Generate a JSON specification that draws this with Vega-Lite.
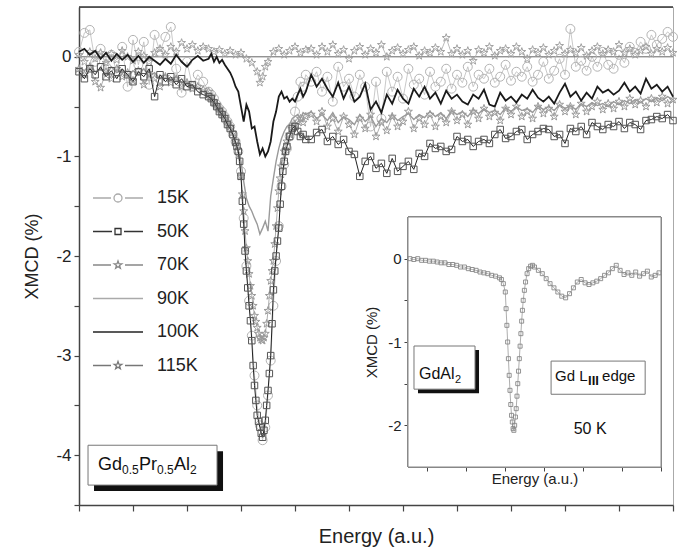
{
"$schema":"https://vega.github.io/schema/vega-lite/v6.json",
"autosize":{"type":"none"},
"padding":{"left":79,"top":7,"right":8,"bottom":50},
"width":594,"height":498,
"background":"white",
"config":{"font":"Liberation Sans","view":{"stroke":"#aaaaaa"},"axis":{"grid":false,"domainColor":"#444444","domainWidth":1.5,"tickColor":"#444444","tickWidth":1.2,"labelColor":"#222222","titleColor":"#222222","titleFontWeight":"normal","labelFont":"Liberation Sans","titleFont":"Liberation Sans"}},
"datasets":{
"main":[
{"s":"15K","x":0.0,"y":0.05},{"s":"15K","x":0.1,"y":0.24},{"s":"15K","x":0.2,"y":0.27},{"s":"15K","x":0.3,"y":-0.05},{"s":"15K","x":0.4,"y":0.08},{"s":"15K","x":0.5,"y":-0.10},{"s":"15K","x":0.6,"y":0.02},{"s":"15K","x":0.7,"y":-0.15},{"s":"15K","x":0.8,"y":0.10},{"s":"15K","x":0.9,"y":-0.30},{"s":"15K","x":1.0,"y":0.17},{"s":"15K","x":1.1,"y":-0.08},{"s":"15K","x":1.2,"y":0.15},{"s":"15K","x":1.3,"y":-0.28},{"s":"15K","x":1.4,"y":0.22},{"s":"15K","x":1.5,"y":0.05},{"s":"15K","x":1.6,"y":0.20},{"s":"15K","x":1.7,"y":0.30},{"s":"15K","x":1.8,"y":-0.12},{"s":"15K","x":1.9,"y":-0.36},{"s":"15K","x":2.0,"y":-0.05},{"s":"15K","x":2.1,"y":-0.30},{"s":"15K","x":2.2,"y":-0.18},{"s":"15K","x":2.3,"y":-0.25},
{"s":"15K","x":2.40,"y":-0.35},{"s":"15K","x":2.45,"y":-0.38},{"s":"15K","x":2.50,"y":-0.42},{"s":"15K","x":2.55,"y":-0.48},{"s":"15K","x":2.60,"y":-0.52},{"s":"15K","x":2.65,"y":-0.55},{"s":"15K","x":2.70,"y":-0.60},{"s":"15K","x":2.75,"y":-0.65},{"s":"15K","x":2.80,"y":-0.70},{"s":"15K","x":2.85,"y":-0.78},{"s":"15K","x":2.90,"y":-0.85},{"s":"15K","x":2.95,"y":-0.95},{"s":"15K","x":3.00,"y":-1.15},{"s":"15K","x":3.05,"y":-1.62},{"s":"15K","x":3.10,"y":-2.10},{"s":"15K","x":3.15,"y":-2.45},{"s":"15K","x":3.20,"y":-2.80},{"s":"15K","x":3.25,"y":-3.20},{"s":"15K","x":3.30,"y":-3.50},{"s":"15K","x":3.35,"y":-3.70},{"s":"15K","x":3.40,"y":-3.85},{"s":"15K","x":3.45,"y":-3.72},{"s":"15K","x":3.50,"y":-3.40},{"s":"15K","x":3.55,"y":-3.05},{"s":"15K","x":3.60,"y":-2.50},{"s":"15K","x":3.65,"y":-2.05},{"s":"15K","x":3.70,"y":-1.70},{"s":"15K","x":3.75,"y":-1.30},{"s":"15K","x":3.80,"y":-1.08},{"s":"15K","x":3.85,"y":-0.92},{"s":"15K","x":3.90,"y":-0.80},{"s":"15K","x":3.95,"y":-0.70},{"s":"15K","x":4.00,"y":-0.55},{"s":"15K","x":4.05,"y":-0.40},{"s":"15K","x":4.10,"y":-0.25},{"s":"15K","x":4.15,"y":-0.30},{"s":"15K","x":4.20,"y":-0.18},
{"s":"15K","x":4.3,"y":-0.25},{"s":"15K","x":4.4,"y":-0.15},{"s":"15K","x":4.5,"y":-0.35},{"s":"15K","x":4.6,"y":-0.20},{"s":"15K","x":4.7,"y":-0.45},{"s":"15K","x":4.8,"y":-0.10},{"s":"15K","x":4.9,"y":-0.30},{"s":"15K","x":5.0,"y":-0.22},{"s":"15K","x":5.1,"y":-0.40},{"s":"15K","x":5.2,"y":-0.18},
{"s":"15K","x":5.3,"y":-0.30},{"s":"15K","x":5.4,"y":-0.70},{"s":"15K","x":5.5,"y":-0.25},{"s":"15K","x":5.6,"y":-0.62},{"s":"15K","x":5.7,"y":-0.15},{"s":"15K","x":5.8,"y":-0.35},{"s":"15K","x":5.9,"y":-0.20},{"s":"15K","x":6.0,"y":-0.42},{"s":"15K","x":6.1,"y":-0.12},{"s":"15K","x":6.2,"y":-0.28},
{"s":"15K","x":6.3,"y":-0.22},{"s":"15K","x":6.4,"y":-0.38},{"s":"15K","x":6.5,"y":-0.15},{"s":"15K","x":6.6,"y":-0.30},{"s":"15K","x":6.7,"y":-0.25},{"s":"15K","x":6.8,"y":-0.12},{"s":"15K","x":6.9,"y":-0.32},{"s":"15K","x":7.0,"y":-0.18},{"s":"15K","x":7.1,"y":-0.26},{"s":"15K","x":7.2,"y":-0.10},
{"s":"15K","x":7.3,"y":-0.30},{"s":"15K","x":7.4,"y":-0.18},{"s":"15K","x":7.5,"y":-0.22},{"s":"15K","x":7.6,"y":-0.12},{"s":"15K","x":7.7,"y":-0.26},{"s":"15K","x":7.8,"y":-0.20},{"s":"15K","x":7.9,"y":-0.08},{"s":"15K","x":8.0,"y":-0.24},{"s":"15K","x":8.1,"y":-0.15},{"s":"15K","x":8.2,"y":-0.20},
{"s":"15K","x":8.3,"y":-0.10},{"s":"15K","x":8.4,"y":-0.25},{"s":"15K","x":8.5,"y":-0.18},{"s":"15K","x":8.6,"y":-0.05},{"s":"15K","x":8.7,"y":-0.22},{"s":"15K","x":8.8,"y":-0.14},{"s":"15K","x":8.9,"y":-0.02},{"s":"15K","x":9.0,"y":-0.18},{"s":"15K","x":9.1,"y":0.28},{"s":"15K","x":9.2,"y":-0.10},
{"s":"15K","x":9.3,"y":-0.04},{"s":"15K","x":9.4,"y":-0.14},{"s":"15K","x":9.5,"y":0.00},{"s":"15K","x":9.6,"y":-0.10},{"s":"15K","x":9.7,"y":0.05},{"s":"15K","x":9.8,"y":-0.08},{"s":"15K","x":9.9,"y":-0.12},{"s":"15K","x":10.0,"y":0.02},{"s":"15K","x":10.1,"y":-0.06},{"s":"15K","x":10.2,"y":0.10},
{"s":"15K","x":10.3,"y":0.04},{"s":"15K","x":10.4,"y":0.15},{"s":"15K","x":10.5,"y":0.08},{"s":"15K","x":10.6,"y":0.22},{"s":"15K","x":10.7,"y":0.12},{"s":"15K","x":10.8,"y":0.18},{"s":"15K","x":10.9,"y":0.25},{"s":"15K","x":11.0,"y":0.20},

{"s":"50K","x":0.0,"y":-0.15},{"s":"50K","x":0.1,"y":-0.22},{"s":"50K","x":0.2,"y":-0.12},{"s":"50K","x":0.3,"y":-0.18},{"s":"50K","x":0.4,"y":-0.10},{"s":"50K","x":0.5,"y":-0.20},{"s":"50K","x":0.6,"y":-0.14},{"s":"50K","x":0.7,"y":-0.22},{"s":"50K","x":0.8,"y":-0.12},{"s":"50K","x":0.9,"y":-0.18},{"s":"50K","x":1.0,"y":-0.25},{"s":"50K","x":1.1,"y":-0.15},{"s":"50K","x":1.2,"y":-0.20},{"s":"50K","x":1.3,"y":-0.12},{"s":"50K","x":1.4,"y":-0.40},{"s":"50K","x":1.5,"y":-0.18},{"s":"50K","x":1.6,"y":-0.25},{"s":"50K","x":1.7,"y":-0.20},{"s":"50K","x":1.8,"y":-0.28},{"s":"50K","x":1.9,"y":-0.22},{"s":"50K","x":2.0,"y":-0.30},{"s":"50K","x":2.1,"y":-0.28},{"s":"50K","x":2.2,"y":-0.35},{"s":"50K","x":2.3,"y":-0.38},
{"s":"50K","x":2.40,"y":-0.40},{"s":"50K","x":2.45,"y":-0.42},{"s":"50K","x":2.50,"y":-0.46},{"s":"50K","x":2.55,"y":-0.50},{"s":"50K","x":2.60,"y":-0.55},{"s":"50K","x":2.65,"y":-0.58},{"s":"50K","x":2.70,"y":-0.62},{"s":"50K","x":2.75,"y":-0.68},{"s":"50K","x":2.80,"y":-0.72},{"s":"50K","x":2.85,"y":-0.78},{"s":"50K","x":2.90,"y":-0.86},{"s":"50K","x":2.925,"y":-0.90},{"s":"50K","x":2.95,"y":-0.95},{"s":"50K","x":2.975,"y":-1.05},{"s":"50K","x":3.0,"y":-1.20},{"s":"50K","x":3.025,"y":-1.45},{"s":"50K","x":3.05,"y":-1.68},{"s":"50K","x":3.075,"y":-1.95},{"s":"50K","x":3.1,"y":-2.15},{"s":"50K","x":3.125,"y":-2.32},{"s":"50K","x":3.15,"y":-2.50},{"s":"50K","x":3.175,"y":-2.65},{"s":"50K","x":3.2,"y":-2.85},{"s":"50K","x":3.225,"y":-3.10},{"s":"50K","x":3.25,"y":-3.30},{"s":"50K","x":3.275,"y":-3.45},{"s":"50K","x":3.3,"y":-3.60},{"s":"50K","x":3.325,"y":-3.66},{"s":"50K","x":3.35,"y":-3.72},{"s":"50K","x":3.375,"y":-3.78},{"s":"50K","x":3.4,"y":-3.82},{"s":"50K","x":3.425,"y":-3.75},{"s":"50K","x":3.45,"y":-3.65},{"s":"50K","x":3.475,"y":-3.50},{"s":"50K","x":3.5,"y":-3.35},{"s":"50K","x":3.525,"y":-3.18},{"s":"50K","x":3.55,"y":-3.00},{"s":"50K","x":3.575,"y":-2.68},{"s":"50K","x":3.6,"y":-2.34},{"s":"50K","x":3.625,"y":-2.15},{"s":"50K","x":3.65,"y":-2.00},{"s":"50K","x":3.675,"y":-1.85},{"s":"50K","x":3.7,"y":-1.72},{"s":"50K","x":3.725,"y":-1.48},{"s":"50K","x":3.75,"y":-1.30},{"s":"50K","x":3.775,"y":-1.15},{"s":"50K","x":3.8,"y":-1.05},{"s":"50K","x":3.825,"y":-0.95},{"s":"50K","x":3.85,"y":-0.90},{"s":"50K","x":3.9,"y":-0.80},{"s":"50K","x":3.95,"y":-0.72},{"s":"50K","x":4.0,"y":-0.70},{"s":"50K","x":4.05,"y":-0.75},{"s":"50K","x":4.1,"y":-0.80},{"s":"50K","x":4.15,"y":-0.78},{"s":"50K","x":4.2,"y":-0.83},
{"s":"50K","x":4.3,"y":-0.83},{"s":"50K","x":4.4,"y":-0.76},{"s":"50K","x":4.5,"y":-0.73},{"s":"50K","x":4.6,"y":-0.85},{"s":"50K","x":4.7,"y":-0.80},{"s":"50K","x":4.8,"y":-0.88},{"s":"50K","x":4.9,"y":-0.83},{"s":"50K","x":5.0,"y":-0.95},{"s":"50K","x":5.1,"y":-0.98},{"s":"50K","x":5.2,"y":-1.20},
{"s":"50K","x":5.3,"y":-1.05},{"s":"50K","x":5.4,"y":-1.00},{"s":"50K","x":5.5,"y":-1.12},{"s":"50K","x":5.6,"y":-1.07},{"s":"50K","x":5.7,"y":-1.17},{"s":"50K","x":5.8,"y":-1.02},{"s":"50K","x":5.9,"y":-1.15},{"s":"50K","x":6.0,"y":-1.10},{"s":"50K","x":6.1,"y":-1.05},{"s":"50K","x":6.2,"y":-1.13},
{"s":"50K","x":6.3,"y":-0.97},{"s":"50K","x":6.4,"y":-1.00},{"s":"50K","x":6.5,"y":-0.87},{"s":"50K","x":6.6,"y":-0.92},{"s":"50K","x":6.7,"y":-0.90},{"s":"50K","x":6.8,"y":-0.95},{"s":"50K","x":6.9,"y":-0.93},{"s":"50K","x":7.0,"y":-0.80},{"s":"50K","x":7.1,"y":-0.85},{"s":"50K","x":7.2,"y":-0.83},
{"s":"50K","x":7.3,"y":-0.90},{"s":"50K","x":7.4,"y":-0.85},{"s":"50K","x":7.5,"y":-0.83},{"s":"50K","x":7.6,"y":-0.87},{"s":"50K","x":7.7,"y":-0.78},{"s":"50K","x":7.8,"y":-0.73},{"s":"50K","x":7.9,"y":-0.82},{"s":"50K","x":8.0,"y":-0.80},{"s":"50K","x":8.1,"y":-0.75},{"s":"50K","x":8.2,"y":-0.73},
{"s":"50K","x":8.3,"y":-0.83},{"s":"50K","x":8.4,"y":-0.78},{"s":"50K","x":8.5,"y":-0.75},{"s":"50K","x":8.6,"y":-0.72},{"s":"50K","x":8.7,"y":-0.73},{"s":"50K","x":8.8,"y":-0.80},{"s":"50K","x":8.9,"y":-0.78},{"s":"50K","x":9.0,"y":-0.87},{"s":"50K","x":9.1,"y":-0.72},{"s":"50K","x":9.2,"y":-0.75},
{"s":"50K","x":9.3,"y":-0.70},{"s":"50K","x":9.4,"y":-0.78},{"s":"50K","x":9.5,"y":-0.66},{"s":"50K","x":9.6,"y":-0.70},{"s":"50K","x":9.7,"y":-0.73},{"s":"50K","x":9.8,"y":-0.68},{"s":"50K","x":9.9,"y":-0.70},{"s":"50K","x":10.0,"y":-0.65},{"s":"50K","x":10.1,"y":-0.72},{"s":"50K","x":10.2,"y":-0.66},
{"s":"50K","x":10.3,"y":-0.68},{"s":"50K","x":10.4,"y":-0.73},{"s":"50K","x":10.5,"y":-0.64},{"s":"50K","x":10.6,"y":-0.63},{"s":"50K","x":10.7,"y":-0.60},{"s":"50K","x":10.8,"y":-0.62},{"s":"50K","x":10.9,"y":-0.58},{"s":"50K","x":11.0,"y":-0.64},

{"s":"70K","x":0.0,"y":-0.12},{"s":"70K","x":0.1,"y":-0.18},{"s":"70K","x":0.2,"y":-0.10},{"s":"70K","x":0.3,"y":-0.25},{"s":"70K","x":0.4,"y":-0.31},{"s":"70K","x":0.5,"y":-0.15},{"s":"70K","x":0.6,"y":-0.22},{"s":"70K","x":0.7,"y":-0.12},{"s":"70K","x":0.8,"y":-0.20},{"s":"70K","x":0.9,"y":-0.16},{"s":"70K","x":1.0,"y":-0.24},{"s":"70K","x":1.1,"y":-0.14},{"s":"70K","x":1.2,"y":-0.28},{"s":"70K","x":1.3,"y":-0.18},{"s":"70K","x":1.4,"y":-0.22},{"s":"70K","x":1.5,"y":-0.30},{"s":"70K","x":1.6,"y":-0.20},{"s":"70K","x":1.7,"y":-0.26},{"s":"70K","x":1.8,"y":-0.22},{"s":"70K","x":1.9,"y":-0.30},{"s":"70K","x":2.0,"y":-0.26},{"s":"70K","x":2.1,"y":-0.32},{"s":"70K","x":2.2,"y":-0.30},{"s":"70K","x":2.3,"y":-0.33},
{"s":"70K","x":2.40,"y":-0.35},{"s":"70K","x":2.45,"y":-0.40},{"s":"70K","x":2.50,"y":-0.45},{"s":"70K","x":2.55,"y":-0.48},{"s":"70K","x":2.60,"y":-0.52},{"s":"70K","x":2.65,"y":-0.56},{"s":"70K","x":2.70,"y":-0.60},{"s":"70K","x":2.75,"y":-0.65},{"s":"70K","x":2.80,"y":-0.70},{"s":"70K","x":2.85,"y":-0.76},{"s":"70K","x":2.90,"y":-0.85},{"s":"70K","x":2.95,"y":-0.98},{"s":"70K","x":3.0,"y":-1.20},{"s":"70K","x":3.025,"y":-1.38},{"s":"70K","x":3.05,"y":-1.55},{"s":"70K","x":3.075,"y":-1.75},{"s":"70K","x":3.1,"y":-1.92},{"s":"70K","x":3.125,"y":-2.05},{"s":"70K","x":3.15,"y":-2.18},{"s":"70K","x":3.175,"y":-2.30},{"s":"70K","x":3.2,"y":-2.40},{"s":"70K","x":3.225,"y":-2.50},{"s":"70K","x":3.25,"y":-2.60},{"s":"70K","x":3.275,"y":-2.66},{"s":"70K","x":3.3,"y":-2.72},{"s":"70K","x":3.325,"y":-2.78},{"s":"70K","x":3.35,"y":-2.82},{"s":"70K","x":3.375,"y":-2.84},{"s":"70K","x":3.4,"y":-2.85},{"s":"70K","x":3.425,"y":-2.82},{"s":"70K","x":3.45,"y":-2.78},{"s":"70K","x":3.475,"y":-2.68},{"s":"70K","x":3.5,"y":-2.55},{"s":"70K","x":3.525,"y":-2.40},{"s":"70K","x":3.55,"y":-2.25},{"s":"70K","x":3.575,"y":-2.15},{"s":"70K","x":3.6,"y":-2.05},{"s":"70K","x":3.625,"y":-1.88},{"s":"70K","x":3.65,"y":-1.70},{"s":"70K","x":3.675,"y":-1.52},{"s":"70K","x":3.7,"y":-1.35},{"s":"70K","x":3.725,"y":-1.22},{"s":"70K","x":3.75,"y":-1.10},{"s":"70K","x":3.8,"y":-0.95},{"s":"70K","x":3.85,"y":-0.85},{"s":"70K","x":3.9,"y":-0.78},{"s":"70K","x":3.95,"y":-0.72},{"s":"70K","x":4.0,"y":-0.68},{"s":"70K","x":4.05,"y":-0.65},{"s":"70K","x":4.1,"y":-0.62},{"s":"70K","x":4.15,"y":-0.66},{"s":"70K","x":4.2,"y":-0.60},
{"s":"70K","x":4.3,"y":-0.58},{"s":"70K","x":4.4,"y":-0.65},{"s":"70K","x":4.5,"y":-0.55},{"s":"70K","x":4.6,"y":-0.70},{"s":"70K","x":4.7,"y":-0.62},{"s":"70K","x":4.8,"y":-0.75},{"s":"70K","x":4.9,"y":-0.60},{"s":"70K","x":5.0,"y":-0.68},{"s":"70K","x":5.1,"y":-0.78},{"s":"70K","x":5.2,"y":-0.62},
{"s":"70K","x":5.3,"y":-0.72},{"s":"70K","x":5.4,"y":-0.58},{"s":"70K","x":5.5,"y":-0.80},{"s":"70K","x":5.6,"y":-0.66},{"s":"70K","x":5.7,"y":-0.74},{"s":"70K","x":5.8,"y":-0.60},{"s":"70K","x":5.9,"y":-0.70},{"s":"70K","x":6.0,"y":-0.65},{"s":"70K","x":6.1,"y":-0.55},{"s":"70K","x":6.2,"y":-0.72},
{"s":"70K","x":6.3,"y":-0.62},{"s":"70K","x":6.4,"y":-0.68},{"s":"70K","x":6.5,"y":-0.58},{"s":"70K","x":6.6,"y":-0.70},{"s":"70K","x":6.7,"y":-0.60},{"s":"70K","x":6.8,"y":-0.66},{"s":"70K","x":6.9,"y":-0.55},{"s":"70K","x":7.0,"y":-0.64},{"s":"70K","x":7.1,"y":-0.58},{"s":"70K","x":7.2,"y":-0.68},
{"s":"70K","x":7.3,"y":-0.55},{"s":"70K","x":7.4,"y":-0.62},{"s":"70K","x":7.5,"y":-0.52},{"s":"70K","x":7.6,"y":-0.60},{"s":"70K","x":7.7,"y":-0.56},{"s":"70K","x":7.8,"y":-0.64},{"s":"70K","x":7.9,"y":-0.52},{"s":"70K","x":8.0,"y":-0.58},{"s":"70K","x":8.1,"y":-0.50},{"s":"70K","x":8.2,"y":-0.60},
{"s":"70K","x":8.3,"y":-0.55},{"s":"70K","x":8.4,"y":-0.62},{"s":"70K","x":8.5,"y":-0.50},{"s":"70K","x":8.6,"y":-0.57},{"s":"70K","x":8.7,"y":-0.52},{"s":"70K","x":8.8,"y":-0.60},{"s":"70K","x":8.9,"y":-0.48},{"s":"70K","x":9.0,"y":-0.55},{"s":"70K","x":9.1,"y":-0.50},{"s":"70K","x":9.2,"y":-0.58},
{"s":"70K","x":9.3,"y":-0.47},{"s":"70K","x":9.4,"y":-0.55},{"s":"70K","x":9.5,"y":-0.50},{"s":"70K","x":9.6,"y":-0.45},{"s":"70K","x":9.7,"y":-0.53},{"s":"70K","x":9.8,"y":-0.47},{"s":"70K","x":9.9,"y":-0.52},{"s":"70K","x":10.0,"y":-0.45},{"s":"70K","x":10.1,"y":-0.50},{"s":"70K","x":10.2,"y":-0.42},
{"s":"70K","x":10.3,"y":-0.48},{"s":"70K","x":10.4,"y":-0.44},{"s":"70K","x":10.5,"y":-0.50},{"s":"70K","x":10.6,"y":-0.42},{"s":"70K","x":10.7,"y":-0.46},{"s":"70K","x":10.8,"y":-0.40},{"s":"70K","x":10.9,"y":-0.47},{"s":"70K","x":11.0,"y":-0.43},

{"s":"90K","x":0.0,"y":-0.10},{"s":"90K","x":0.1,"y":-0.14},{"s":"90K","x":0.2,"y":-0.08},{"s":"90K","x":0.3,"y":-0.15},{"s":"90K","x":0.4,"y":-0.12},{"s":"90K","x":0.5,"y":-0.18},{"s":"90K","x":0.6,"y":-0.10},{"s":"90K","x":0.7,"y":-0.16},{"s":"90K","x":0.8,"y":-0.13},{"s":"90K","x":0.9,"y":-0.20},{"s":"90K","x":1.0,"y":-0.14},{"s":"90K","x":1.1,"y":-0.18},{"s":"90K","x":1.2,"y":-0.12},{"s":"90K","x":1.3,"y":-0.20},{"s":"90K","x":1.4,"y":-0.16},{"s":"90K","x":1.5,"y":-0.22},{"s":"90K","x":1.6,"y":-0.18},{"s":"90K","x":1.7,"y":-0.24},{"s":"90K","x":1.8,"y":-0.20},{"s":"90K","x":1.9,"y":-0.26},{"s":"90K","x":2.0,"y":-0.25},{"s":"90K","x":2.1,"y":-0.30},{"s":"90K","x":2.2,"y":-0.32},{"s":"90K","x":2.3,"y":-0.35},
{"s":"90K","x":2.40,"y":-0.38},{"s":"90K","x":2.45,"y":-0.42},{"s":"90K","x":2.50,"y":-0.45},{"s":"90K","x":2.55,"y":-0.50},{"s":"90K","x":2.60,"y":-0.52},{"s":"90K","x":2.65,"y":-0.58},{"s":"90K","x":2.70,"y":-0.60},{"s":"90K","x":2.75,"y":-0.68},{"s":"90K","x":2.80,"y":-0.72},{"s":"90K","x":2.85,"y":-0.80},{"s":"90K","x":2.90,"y":-0.88},{"s":"90K","x":2.95,"y":-0.95},{"s":"90K","x":3.0,"y":-1.05},{"s":"90K","x":3.05,"y":-1.25},{"s":"90K","x":3.1,"y":-1.42},{"s":"90K","x":3.15,"y":-1.50},{"s":"90K","x":3.2,"y":-1.55},{"s":"90K","x":3.25,"y":-1.62},{"s":"90K","x":3.3,"y":-1.68},{"s":"90K","x":3.35,"y":-1.78},{"s":"90K","x":3.4,"y":-1.72},{"s":"90K","x":3.45,"y":-1.65},{"s":"90K","x":3.5,"y":-1.75},{"s":"90K","x":3.55,"y":-1.40},{"s":"90K","x":3.6,"y":-1.22},{"s":"90K","x":3.65,"y":-1.05},{"s":"90K","x":3.7,"y":-0.92},{"s":"90K","x":3.75,"y":-0.82},{"s":"90K","x":3.8,"y":-0.75},{"s":"90K","x":3.85,"y":-0.70},{"s":"90K","x":3.9,"y":-0.68},{"s":"90K","x":3.95,"y":-0.62},{"s":"90K","x":4.0,"y":-0.60},{"s":"90K","x":4.05,"y":-0.58},{"s":"90K","x":4.1,"y":-0.62},{"s":"90K","x":4.15,"y":-0.56},{"s":"90K","x":4.2,"y":-0.58},
{"s":"90K","x":4.3,"y":-0.55},{"s":"90K","x":4.4,"y":-0.62},{"s":"90K","x":4.5,"y":-0.58},{"s":"90K","x":4.6,"y":-0.64},{"s":"90K","x":4.7,"y":-0.56},{"s":"90K","x":4.8,"y":-0.66},{"s":"90K","x":4.9,"y":-0.60},{"s":"90K","x":5.0,"y":-0.63},{"s":"90K","x":5.1,"y":-0.68},{"s":"90K","x":5.2,"y":-0.58},
{"s":"90K","x":5.3,"y":-0.65},{"s":"90K","x":5.4,"y":-0.60},{"s":"90K","x":5.5,"y":-0.70},{"s":"90K","x":5.6,"y":-0.62},{"s":"90K","x":5.7,"y":-0.66},{"s":"90K","x":5.8,"y":-0.58},{"s":"90K","x":5.9,"y":-0.64},{"s":"90K","x":6.0,"y":-0.60},{"s":"90K","x":6.1,"y":-0.57},{"s":"90K","x":6.2,"y":-0.63},
{"s":"90K","x":6.3,"y":-0.58},{"s":"90K","x":6.4,"y":-0.61},{"s":"90K","x":6.5,"y":-0.55},{"s":"90K","x":6.6,"y":-0.60},{"s":"90K","x":6.7,"y":-0.56},{"s":"90K","x":6.8,"y":-0.62},{"s":"90K","x":6.9,"y":-0.54},{"s":"90K","x":7.0,"y":-0.58},{"s":"90K","x":7.1,"y":-0.55},{"s":"90K","x":7.2,"y":-0.60},
{"s":"90K","x":7.3,"y":-0.53},{"s":"90K","x":7.4,"y":-0.57},{"s":"90K","x":7.5,"y":-0.52},{"s":"90K","x":7.6,"y":-0.56},{"s":"90K","x":7.7,"y":-0.54},{"s":"90K","x":7.8,"y":-0.58},{"s":"90K","x":7.9,"y":-0.51},{"s":"90K","x":8.0,"y":-0.55},{"s":"90K","x":8.1,"y":-0.50},{"s":"90K","x":8.2,"y":-0.54},
{"s":"90K","x":8.3,"y":-0.52},{"s":"90K","x":8.4,"y":-0.56},{"s":"90K","x":8.5,"y":-0.49},{"s":"90K","x":8.6,"y":-0.53},{"s":"90K","x":8.7,"y":-0.50},{"s":"90K","x":8.8,"y":-0.54},{"s":"90K","x":8.9,"y":-0.48},{"s":"90K","x":9.0,"y":-0.52},{"s":"90K","x":9.1,"y":-0.49},{"s":"90K","x":9.2,"y":-0.53},
{"s":"90K","x":9.3,"y":-0.47},{"s":"90K","x":9.4,"y":-0.50},{"s":"90K","x":9.5,"y":-0.46},{"s":"90K","x":9.6,"y":-0.49},{"s":"90K","x":9.7,"y":-0.47},{"s":"90K","x":9.8,"y":-0.50},{"s":"90K","x":9.9,"y":-0.45},{"s":"90K","x":10.0,"y":-0.48},{"s":"90K","x":10.1,"y":-0.44},{"s":"90K","x":10.2,"y":-0.47},
{"s":"90K","x":10.3,"y":-0.43},{"s":"90K","x":10.4,"y":-0.46},{"s":"90K","x":10.5,"y":-0.42},{"s":"90K","x":10.6,"y":-0.45},{"s":"90K","x":10.7,"y":-0.41},{"s":"90K","x":10.8,"y":-0.44},{"s":"90K","x":10.9,"y":-0.40},{"s":"90K","x":11.0,"y":-0.43},

{"s":"100K","x":0.0,"y":0.05},{"s":"100K","x":0.1,"y":0.08},{"s":"100K","x":0.2,"y":0.02},{"s":"100K","x":0.3,"y":0.06},{"s":"100K","x":0.4,"y":-0.02},{"s":"100K","x":0.5,"y":0.04},{"s":"100K","x":0.6,"y":-0.04},{"s":"100K","x":0.7,"y":0.03},{"s":"100K","x":0.8,"y":-0.03},{"s":"100K","x":0.9,"y":0.02},{"s":"100K","x":1.0,"y":-0.05},{"s":"100K","x":1.1,"y":0.01},{"s":"100K","x":1.2,"y":-0.06},{"s":"100K","x":1.3,"y":0.00},{"s":"100K","x":1.4,"y":-0.04},{"s":"100K","x":1.5,"y":-0.08},{"s":"100K","x":1.6,"y":-0.02},{"s":"100K","x":1.7,"y":-0.07},{"s":"100K","x":1.8,"y":0.02},{"s":"100K","x":1.9,"y":-0.05},{"s":"100K","x":2.0,"y":-0.10},{"s":"100K","x":2.1,"y":-0.03},{"s":"100K","x":2.2,"y":0.01},{"s":"100K","x":2.3,"y":-0.04},
{"s":"100K","x":2.40,"y":-0.02},{"s":"100K","x":2.45,"y":0.03},{"s":"100K","x":2.50,"y":-0.05},{"s":"100K","x":2.55,"y":0.00},{"s":"100K","x":2.60,"y":-0.06},{"s":"100K","x":2.65,"y":-0.03},{"s":"100K","x":2.70,"y":-0.08},{"s":"100K","x":2.75,"y":-0.12},{"s":"100K","x":2.80,"y":-0.16},{"s":"100K","x":2.85,"y":-0.22},{"s":"100K","x":2.90,"y":-0.30},{"s":"100K","x":2.95,"y":-0.35},{"s":"100K","x":3.0,"y":-0.50},{"s":"100K","x":3.05,"y":-0.65},{"s":"100K","x":3.1,"y":-0.48},{"s":"100K","x":3.15,"y":-0.55},{"s":"100K","x":3.2,"y":-0.72},{"s":"100K","x":3.25,"y":-0.70},{"s":"100K","x":3.3,"y":-0.85},{"s":"100K","x":3.35,"y":-0.98},{"s":"100K","x":3.4,"y":-0.92},{"s":"100K","x":3.45,"y":-1.00},{"s":"100K","x":3.5,"y":-0.95},{"s":"100K","x":3.55,"y":-0.85},{"s":"100K","x":3.6,"y":-0.65},{"s":"100K","x":3.65,"y":-0.55},{"s":"100K","x":3.7,"y":-0.40},{"s":"100K","x":3.75,"y":-0.35},{"s":"100K","x":3.8,"y":-0.42},{"s":"100K","x":3.85,"y":-0.40},{"s":"100K","x":3.9,"y":-0.45},{"s":"100K","x":3.95,"y":-0.42},{"s":"100K","x":4.0,"y":-0.45},{"s":"100K","x":4.05,"y":-0.38},{"s":"100K","x":4.1,"y":-0.32},{"s":"100K","x":4.15,"y":-0.40},{"s":"100K","x":4.2,"y":-0.35},
{"s":"100K","x":4.3,"y":-0.18},{"s":"100K","x":4.4,"y":-0.30},{"s":"100K","x":4.5,"y":-0.22},{"s":"100K","x":4.6,"y":-0.32},{"s":"100K","x":4.7,"y":-0.40},{"s":"100K","x":4.8,"y":-0.26},{"s":"100K","x":4.9,"y":-0.42},{"s":"100K","x":5.0,"y":-0.30},{"s":"100K","x":5.1,"y":-0.45},{"s":"100K","x":5.2,"y":-0.40},
{"s":"100K","x":5.3,"y":-0.27},{"s":"100K","x":5.4,"y":-0.53},{"s":"100K","x":5.5,"y":-0.45},{"s":"100K","x":5.6,"y":-0.56},{"s":"100K","x":5.7,"y":-0.38},{"s":"100K","x":5.8,"y":-0.47},{"s":"100K","x":5.9,"y":-0.33},{"s":"100K","x":6.0,"y":-0.42},{"s":"100K","x":6.1,"y":-0.47},{"s":"100K","x":6.2,"y":-0.32},
{"s":"100K","x":6.3,"y":-0.40},{"s":"100K","x":6.4,"y":-0.30},{"s":"100K","x":6.5,"y":-0.42},{"s":"100K","x":6.6,"y":-0.36},{"s":"100K","x":6.7,"y":-0.47},{"s":"100K","x":6.8,"y":-0.34},{"s":"100K","x":6.9,"y":-0.42},{"s":"100K","x":7.0,"y":-0.38},{"s":"100K","x":7.1,"y":-0.45},{"s":"100K","x":7.2,"y":-0.48},
{"s":"100K","x":7.3,"y":-0.38},{"s":"100K","x":7.4,"y":-0.42},{"s":"100K","x":7.5,"y":-0.33},{"s":"100K","x":7.6,"y":-0.48},{"s":"100K","x":7.7,"y":-0.50},{"s":"100K","x":7.8,"y":-0.36},{"s":"100K","x":7.9,"y":-0.44},{"s":"100K","x":8.0,"y":-0.40},{"s":"100K","x":8.1,"y":-0.46},{"s":"100K","x":8.2,"y":-0.38},
{"s":"100K","x":8.3,"y":-0.42},{"s":"100K","x":8.4,"y":-0.33},{"s":"100K","x":8.5,"y":-0.41},{"s":"100K","x":8.6,"y":-0.45},{"s":"100K","x":8.7,"y":-0.40},{"s":"100K","x":8.8,"y":-0.47},{"s":"100K","x":8.9,"y":-0.36},{"s":"100K","x":9.0,"y":-0.27},{"s":"100K","x":9.1,"y":-0.40},{"s":"100K","x":9.2,"y":-0.35},
{"s":"100K","x":9.3,"y":-0.44},{"s":"100K","x":9.4,"y":-0.36},{"s":"100K","x":9.5,"y":-0.42},{"s":"100K","x":9.6,"y":-0.30},{"s":"100K","x":9.7,"y":-0.36},{"s":"100K","x":9.8,"y":-0.33},{"s":"100K","x":9.9,"y":-0.38},{"s":"100K","x":10.0,"y":-0.34},{"s":"100K","x":10.1,"y":-0.26},{"s":"100K","x":10.2,"y":-0.35},
{"s":"100K","x":10.3,"y":-0.30},{"s":"100K","x":10.4,"y":-0.37},{"s":"100K","x":10.5,"y":-0.22},{"s":"100K","x":10.6,"y":-0.32},{"s":"100K","x":10.7,"y":-0.28},{"s":"100K","x":10.8,"y":-0.35},{"s":"100K","x":10.9,"y":-0.30},{"s":"100K","x":11.0,"y":-0.40},

{"s":"115K","x":0.0,"y":0.02},{"s":"115K","x":0.1,"y":-0.05},{"s":"115K","x":0.2,"y":0.05},{"s":"115K","x":0.3,"y":-0.02},{"s":"115K","x":0.4,"y":0.04},{"s":"115K","x":0.5,"y":-0.06},{"s":"115K","x":0.6,"y":0.03},{"s":"115K","x":0.7,"y":-0.03},{"s":"115K","x":0.8,"y":0.06},{"s":"115K","x":0.9,"y":0.00},{"s":"115K","x":1.0,"y":-0.04},{"s":"115K","x":1.1,"y":0.05},{"s":"115K","x":1.2,"y":0.01},{"s":"115K","x":1.3,"y":-0.05},{"s":"115K","x":1.4,"y":0.04},{"s":"115K","x":1.5,"y":0.08},{"s":"115K","x":1.6,"y":0.02},{"s":"115K","x":1.7,"y":0.10},{"s":"115K","x":1.8,"y":0.05},{"s":"115K","x":1.9,"y":0.14},{"s":"115K","x":2.0,"y":0.08},{"s":"115K","x":2.1,"y":0.12},{"s":"115K","x":2.2,"y":0.06},{"s":"115K","x":2.3,"y":0.10},
{"s":"115K","x":2.4,"y":0.08},{"s":"115K","x":2.5,"y":0.05},{"s":"115K","x":2.6,"y":0.07},{"s":"115K","x":2.7,"y":0.03},{"s":"115K","x":2.8,"y":0.06},{"s":"115K","x":2.9,"y":0.02},{"s":"115K","x":3.0,"y":0.04},{"s":"115K","x":3.1,"y":-0.02},{"s":"115K","x":3.2,"y":-0.06},{"s":"115K","x":3.3,"y":-0.15},{"s":"115K","x":3.35,"y":-0.26},{"s":"115K","x":3.4,"y":-0.20},{"s":"115K","x":3.45,"y":-0.10},{"s":"115K","x":3.5,"y":-0.05},{"s":"115K","x":3.6,"y":0.05},{"s":"115K","x":3.7,"y":0.08},{"s":"115K","x":3.8,"y":0.02},{"s":"115K","x":3.9,"y":0.06},{"s":"115K","x":4.0,"y":0.10},{"s":"115K","x":4.1,"y":0.04},{"s":"115K","x":4.2,"y":0.07},
{"s":"115K","x":4.3,"y":0.08},{"s":"115K","x":4.4,"y":0.02},{"s":"115K","x":4.5,"y":0.10},{"s":"115K","x":4.6,"y":0.05},{"s":"115K","x":4.7,"y":0.12},{"s":"115K","x":4.8,"y":0.03},{"s":"115K","x":4.9,"y":0.07},{"s":"115K","x":5.0,"y":-0.02},{"s":"115K","x":5.1,"y":0.06},{"s":"115K","x":5.2,"y":0.10},
{"s":"115K","x":5.3,"y":0.02},{"s":"115K","x":5.4,"y":0.08},{"s":"115K","x":5.5,"y":0.04},{"s":"115K","x":5.6,"y":0.12},{"s":"115K","x":5.7,"y":0.00},{"s":"115K","x":5.8,"y":0.06},{"s":"115K","x":5.9,"y":0.09},{"s":"115K","x":6.0,"y":0.03},{"s":"115K","x":6.1,"y":0.07},{"s":"115K","x":6.2,"y":0.10},
{"s":"115K","x":6.3,"y":0.01},{"s":"115K","x":6.4,"y":0.06},{"s":"115K","x":6.5,"y":0.04},{"s":"115K","x":6.6,"y":0.09},{"s":"115K","x":6.7,"y":0.05},{"s":"115K","x":6.8,"y":0.19},{"s":"115K","x":6.9,"y":0.03},{"s":"115K","x":7.0,"y":0.08},{"s":"115K","x":7.1,"y":0.02},{"s":"115K","x":7.2,"y":0.06},
{"s":"115K","x":7.3,"y":-0.04},{"s":"115K","x":7.4,"y":0.07},{"s":"115K","x":7.5,"y":0.04},{"s":"115K","x":7.6,"y":0.10},{"s":"115K","x":7.7,"y":0.01},{"s":"115K","x":7.8,"y":0.06},{"s":"115K","x":7.9,"y":0.08},{"s":"115K","x":8.0,"y":0.03},{"s":"115K","x":8.1,"y":0.10},{"s":"115K","x":8.2,"y":0.05},
{"s":"115K","x":8.3,"y":-0.02},{"s":"115K","x":8.4,"y":0.07},{"s":"115K","x":8.5,"y":0.04},{"s":"115K","x":8.6,"y":0.09},{"s":"115K","x":8.7,"y":0.02},{"s":"115K","x":8.8,"y":0.06},{"s":"115K","x":8.9,"y":0.11},{"s":"115K","x":9.0,"y":0.03},{"s":"115K","x":9.1,"y":0.07},{"s":"115K","x":9.2,"y":0.04},
{"s":"115K","x":9.3,"y":0.09},{"s":"115K","x":9.4,"y":0.01},{"s":"115K","x":9.5,"y":0.06},{"s":"115K","x":9.6,"y":0.10},{"s":"115K","x":9.7,"y":0.03},{"s":"115K","x":9.8,"y":0.07},{"s":"115K","x":9.9,"y":0.05},{"s":"115K","x":10.0,"y":0.12},{"s":"115K","x":10.1,"y":0.04},{"s":"115K","x":10.2,"y":0.08},
{"s":"115K","x":10.3,"y":0.02},{"s":"115K","x":10.4,"y":0.06},{"s":"115K","x":10.5,"y":0.10},{"s":"115K","x":10.6,"y":0.03},{"s":"115K","x":10.7,"y":0.08},{"s":"115K","x":10.8,"y":0.05},{"s":"115K","x":10.9,"y":0.09},{"s":"115K","x":11.0,"y":0.04}
],
"inset":[
{"x":-0.45,"y":0.00},{"x":-0.35,"y":-0.01},{"x":-0.25,"y":0.00},{"x":-0.15,"y":-0.02},{"x":-0.05,"y":-0.02},{"x":0.05,"y":-0.03},{"x":0.15,"y":-0.03},{"x":0.25,"y":-0.04},{"x":0.35,"y":-0.05},{"x":0.45,"y":-0.05},{"x":0.55,"y":-0.07},{"x":0.65,"y":-0.07},{"x":0.75,"y":-0.08},{"x":0.85,"y":-0.10},{"x":0.95,"y":-0.10},{"x":1.05,"y":-0.12},{"x":1.15,"y":-0.13},{"x":1.25,"y":-0.14},{"x":1.35,"y":-0.16},{"x":1.45,"y":-0.17},{"x":1.55,"y":-0.18},{"x":1.65,"y":-0.20},{"x":1.75,"y":-0.21},{"x":1.85,"y":-0.23},{"x":1.90,"y":-0.25},{"x":1.95,"y":-0.30},
{"x":2.00,"y":-0.40},{"x":2.02,"y":-0.60},{"x":2.04,"y":-0.80},{"x":2.06,"y":-1.00},{"x":2.08,"y":-1.20},{"x":2.10,"y":-1.40},{"x":2.12,"y":-1.58},{"x":2.14,"y":-1.75},{"x":2.16,"y":-1.88},{"x":2.18,"y":-1.96},{"x":2.20,"y":-2.04},{"x":2.22,"y":-2.06},{"x":2.24,"y":-2.00},{"x":2.26,"y":-1.90},{"x":2.28,"y":-1.80},{"x":2.30,"y":-1.65},{"x":2.32,"y":-1.50},{"x":2.34,"y":-1.35},{"x":2.36,"y":-1.20},{"x":2.38,"y":-1.05},{"x":2.40,"y":-0.90},{"x":2.42,"y":-0.75},{"x":2.44,"y":-0.62},{"x":2.46,"y":-0.50},{"x":2.49,"y":-0.38},{"x":2.52,"y":-0.28},{"x":2.56,"y":-0.18},{"x":2.60,"y":-0.12},{"x":2.65,"y":-0.09},{"x":2.70,"y":-0.08},{"x":2.75,"y":-0.10},
{"x":2.85,"y":-0.14},{"x":2.95,"y":-0.18},{"x":3.05,"y":-0.24},{"x":3.15,"y":-0.30},{"x":3.25,"y":-0.35},{"x":3.35,"y":-0.40},{"x":3.45,"y":-0.45},{"x":3.55,"y":-0.47},{"x":3.65,"y":-0.42},{"x":3.75,"y":-0.35},{"x":3.85,"y":-0.28},{"x":3.95,"y":-0.25},{"x":4.05,"y":-0.29},{"x":4.15,"y":-0.31},{"x":4.25,"y":-0.29},{"x":4.35,"y":-0.27},{"x":4.45,"y":-0.24},{"x":4.55,"y":-0.20},{"x":4.65,"y":-0.17},{"x":4.75,"y":-0.12},{"x":4.85,"y":-0.08},{"x":4.95,"y":-0.14},{"x":5.05,"y":-0.19},{"x":5.15,"y":-0.17},{"x":5.25,"y":-0.20},{"x":5.35,"y":-0.16},{"x":5.45,"y":-0.21},{"x":5.55,"y":-0.18},{"x":5.65,"y":-0.15},{"x":5.75,"y":-0.22},{"x":5.85,"y":-0.20},{"x":5.95,"y":-0.17}
]
},
"layer":[
{"layer":[
{"data":{"name":"main"},"transform":[{"filter":"datum.s == '15K'"}],"mark":{"type":"line","color":"#bbbbbb","strokeWidth":0.8},
 "encoding":{"x":{"field":"x","type":"quantitative","scale":{"domain":[0,11],"nice":false,"zero":false},"axis":{"title":"Energy (a.u.)","values":[0,1,2,3,4,5,6,7,8,9,10,11],"labels":false,"tickSize":6,"titleFontSize":20,"titlePadding":15}},
 "y":{"field":"y","type":"quantitative","scale":{"domain":[-4.5,0.5],"nice":false,"zero":false},"axis":{"title":"XMCD (%)","values":[-4.5,-4,-3.5,-3,-2.5,-2,-1.5,-1,-0.5,0],"labelExpr":"datum.value % 1 == 0 ? '' + datum.value : ''","tickSize":5,"labelFontSize":17,"labelPadding":3,"titleFontSize":18,"titlePadding":14}}}},
{"data":{"values":[{}]},"mark":{"type":"rule","color":"#666666","strokeWidth":1},"encoding":{"y":{"datum":0,"type":"quantitative","scale":{"domain":[-4.5,0.5],"nice":false,"zero":false}}}},
{"data":{"name":"main"},"transform":[{"filter":"datum.s == '15K'"}],"mark":{"type":"point","shape":"circle","filled":false,"size":80,"stroke":"#b3b3b3","strokeWidth":1,"opacity":1},
 "encoding":{"x":{"field":"x","type":"quantitative","scale":{"domain":[0,11],"nice":false,"zero":false}},"y":{"field":"y","type":"quantitative","scale":{"domain":[-4.5,0.5],"nice":false,"zero":false}}}},
{"data":{"name":"main"},"transform":[{"filter":"datum.s == '70K'"}],"mark":{"type":"line","color":"#999999","strokeWidth":0.8},
 "encoding":{"x":{"field":"x","type":"quantitative","scale":{"domain":[0,11],"nice":false,"zero":false}},"y":{"field":"y","type":"quantitative","scale":{"domain":[-4.5,0.5],"nice":false,"zero":false}}}},
{"data":{"name":"main"},"transform":[{"filter":"datum.s == '70K'"}],"mark":{"type":"point","shape":"M0,-1L0.235,-0.324L0.951,-0.309L0.38,0.124L0.588,0.809L0,0.4L-0.588,0.809L-0.38,0.124L-0.951,-0.309L-0.235,-0.324Z","filled":false,"size":70,"stroke":"#999999","strokeWidth":1,"opacity":1},
 "encoding":{"x":{"field":"x","type":"quantitative","scale":{"domain":[0,11],"nice":false,"zero":false}},"y":{"field":"y","type":"quantitative","scale":{"domain":[-4.5,0.5],"nice":false,"zero":false}}}},
{"data":{"name":"main"},"transform":[{"filter":"datum.s == '115K'"}],"mark":{"type":"line","color":"#aaaaaa","strokeWidth":0.8},
 "encoding":{"x":{"field":"x","type":"quantitative","scale":{"domain":[0,11],"nice":false,"zero":false}},"y":{"field":"y","type":"quantitative","scale":{"domain":[-4.5,0.5],"nice":false,"zero":false}}}},
{"data":{"name":"main"},"transform":[{"filter":"datum.s == '115K'"}],"mark":{"type":"point","shape":"M0,-1L0.235,-0.324L0.951,-0.309L0.38,0.124L0.588,0.809L0,0.4L-0.588,0.809L-0.38,0.124L-0.951,-0.309L-0.235,-0.324Z","filled":false,"size":70,"stroke":"#a3a3a3","strokeWidth":1,"opacity":1},
 "encoding":{"x":{"field":"x","type":"quantitative","scale":{"domain":[0,11],"nice":false,"zero":false}},"y":{"field":"y","type":"quantitative","scale":{"domain":[-4.5,0.5],"nice":false,"zero":false}}}},
{"data":{"name":"main"},"transform":[{"filter":"datum.s == '90K'"}],"mark":{"type":"line","color":"#9a9a9a","strokeWidth":1.4},
 "encoding":{"x":{"field":"x","type":"quantitative","scale":{"domain":[0,11],"nice":false,"zero":false}},"y":{"field":"y","type":"quantitative","scale":{"domain":[-4.5,0.5],"nice":false,"zero":false}}}},
{"data":{"name":"main"},"transform":[{"filter":"datum.s == '50K'"}],"mark":{"type":"line","color":"#222222","strokeWidth":1},
 "encoding":{"x":{"field":"x","type":"quantitative","scale":{"domain":[0,11],"nice":false,"zero":false}},"y":{"field":"y","type":"quantitative","scale":{"domain":[-4.5,0.5],"nice":false,"zero":false}}}},
{"data":{"name":"main"},"transform":[{"filter":"datum.s == '50K'"}],"mark":{"type":"point","shape":"square","filled":false,"size":42,"stroke":"#555555","strokeWidth":1,"opacity":1},
 "encoding":{"x":{"field":"x","type":"quantitative","scale":{"domain":[0,11],"nice":false,"zero":false}},"y":{"field":"y","type":"quantitative","scale":{"domain":[-4.5,0.5],"nice":false,"zero":false}}}},
{"data":{"name":"main"},"transform":[{"filter":"datum.s == '100K'"}],"mark":{"type":"line","color":"#1a1a1a","strokeWidth":1.8},
 "encoding":{"x":{"field":"x","type":"quantitative","scale":{"domain":[0,11],"nice":false,"zero":false}},"y":{"field":"y","type":"quantitative","scale":{"domain":[-4.5,0.5],"nice":false,"zero":false}}}},
{"data":{"values":[{}]},"mark":{"type":"rule","color":"#333333","strokeWidth":1.5},"encoding":{"y":{"datum":0.5,"type":"quantitative","scale":{"domain":[-4.5,0.5],"nice":false,"zero":false}}}},
{"data":{"name":"main"},"transform":[{"filter":"false"}],"mark":{"type":"point","filled":false,"opacity":1},
 "encoding":{"x":{"field":"x","type":"quantitative","scale":{"domain":[0,11],"nice":false,"zero":false}},"y":{"field":"y","type":"quantitative","scale":{"domain":[-4.5,0.5],"nice":false,"zero":false}},
 "color":{"field":"s","type":"nominal","scale":{"domain":["15K","50K","70K","90K","100K","115K"],"range":["#aaaaaa","#333333","#888888","#aaaaaa","#222222","#777777"]},
  "legend":{"orient":"none","legendX":30,"legendY":182,"title":null,"padding":0,"labelFontSize":18,"labelColor":"#222222","labelOffset":30,"symbolSize":100,"rowPadding":15.5,"symbolStrokeWidth":1.3,"labelFont":"Liberation Sans","encode":{"symbols":{"update":{"fill":{"value":"transparent"},"strokeWidth":{"value":1.3}}}}}},
 "shape":{"field":"s","type":"nominal","scale":{"domain":["15K","50K","70K","90K","100K","115K"],"range":["M-5,0H-1.4M1.4,0H5M0.8,0A0.8,0.8 0 1 1 -0.8,0A0.8,0.8 0 1 1 0.8,0","M-5,0H-1.2M1.2,0H5M-0.6,-0.6H0.6V0.6H-0.6Z","M-5,0H-1.4M1.4,0H5M0,-0.8L0.188,-0.259L0.761,-0.247L0.304,0.099L0.47,0.647L0,0.32L-0.47,0.647L-0.304,0.099L-0.761,-0.247L-0.188,-0.259Z","M-5,0H5","M-5,0H5","M-5,0H-1.4M1.4,0H5M0,-0.8L0.188,-0.259L0.761,-0.247L0.304,0.099L0.47,0.647L0,0.32L-0.47,0.647L-0.304,0.099L-0.761,-0.247L-0.188,-0.259Z"]},
  "legend":{"orient":"none","legendX":30,"legendY":182,"title":null,"padding":0,"labelFontSize":18,"labelColor":"#222222","labelOffset":30,"symbolSize":100,"rowPadding":15.5,"symbolStrokeWidth":1.3,"labelFont":"Liberation Sans","encode":{"symbols":{"update":{"fill":{"value":"transparent"},"strokeWidth":{"value":1.3}}}}}}}},
{"data":{"values":[{}]},"mark":{"type":"rect","fill":"#111111","xOffset":6,"x2Offset":6,"yOffset":6,"y2Offset":6},
 "encoding":{"x":{"datum":0.167,"type":"quantitative","scale":{"domain":[0,11],"nice":false,"zero":false}},"x2":{"datum":2.556},"y":{"datum":-3.90,"type":"quantitative","scale":{"domain":[-4.5,0.5],"nice":false,"zero":false}},"y2":{"datum":-4.30}}},
{"data":{"values":[{}]},"mark":{"type":"rect","fill":"white","stroke":"#777777","strokeWidth":1},
 "encoding":{"x":{"datum":0.167,"type":"quantitative","scale":{"domain":[0,11],"nice":false,"zero":false}},"x2":{"datum":2.556},"y":{"datum":-3.90,"type":"quantitative","scale":{"domain":[-4.5,0.5],"nice":false,"zero":false}},"y2":{"datum":-4.30}}},
{"data":{"values":[{}]},"mark":{"type":"text","text":"Gd","align":"left","baseline":"alphabetic","fontSize":18,"color":"#111111","dx":0},"encoding":{"x":{"datum":0.352,"type":"quantitative","scale":{"domain":[0,11],"nice":false,"zero":false}},"y":{"datum":-4.15,"type":"quantitative","scale":{"domain":[-4.5,0.5],"nice":false,"zero":false}}}},
{"data":{"values":[{}]},"mark":{"type":"text","text":"0.5","align":"left","baseline":"alphabetic","fontSize":12,"color":"#111111","dx":24,"dy":4},"encoding":{"x":{"datum":0.352,"type":"quantitative","scale":{"domain":[0,11],"nice":false,"zero":false}},"y":{"datum":-4.15,"type":"quantitative","scale":{"domain":[-4.5,0.5],"nice":false,"zero":false}}}},
{"data":{"values":[{}]},"mark":{"type":"text","text":"Pr","align":"left","baseline":"alphabetic","fontSize":18,"color":"#111111","dx":41},"encoding":{"x":{"datum":0.352,"type":"quantitative","scale":{"domain":[0,11],"nice":false,"zero":false}},"y":{"datum":-4.15,"type":"quantitative","scale":{"domain":[-4.5,0.5],"nice":false,"zero":false}}}},
{"data":{"values":[{}]},"mark":{"type":"text","text":"0.5","align":"left","baseline":"alphabetic","fontSize":12,"color":"#111111","dx":59,"dy":4},"encoding":{"x":{"datum":0.352,"type":"quantitative","scale":{"domain":[0,11],"nice":false,"zero":false}},"y":{"datum":-4.15,"type":"quantitative","scale":{"domain":[-4.5,0.5],"nice":false,"zero":false}}}},
{"data":{"values":[{}]},"mark":{"type":"text","text":"Al","align":"left","baseline":"alphabetic","fontSize":18,"color":"#111111","dx":76},"encoding":{"x":{"datum":0.352,"type":"quantitative","scale":{"domain":[0,11],"nice":false,"zero":false}},"y":{"datum":-4.15,"type":"quantitative","scale":{"domain":[-4.5,0.5],"nice":false,"zero":false}}}},
{"data":{"values":[{}]},"mark":{"type":"text","text":"2","align":"left","baseline":"alphabetic","fontSize":12,"color":"#111111","dx":92,"dy":4},"encoding":{"x":{"datum":0.352,"type":"quantitative","scale":{"domain":[0,11],"nice":false,"zero":false}},"y":{"datum":-4.15,"type":"quantitative","scale":{"domain":[-4.5,0.5],"nice":false,"zero":false}}}}
]},
{"layer":[
{"data":{"name":"inset"},"mark":{"type":"rect","fill":"white","stroke":"#888888","strokeWidth":1},
 "encoding":{"x":{"datum":-0.5,"type":"quantitative","scale":{"domain":[-0.5,6],"range":[329,582],"nice":false,"zero":false},"axis":{"orient":"bottom","offset":-38,"title":"Energy (a.u.)","values":[0,1,2,3,4,5,6],"labels":false,"tickSize":4,"domainWidth":1,"tickWidth":1,"titleFontSize":15,"titlePadding":0}},"x2":{"datum":6},
 "y":{"datum":-2.5,"type":"quantitative","scale":{"domain":[-2.5,0.5],"range":[460,210],"nice":false,"zero":false},"axis":{"orient":"left","offset":-329,"title":"XMCD (%)","values":[-2,-1.5,-1,-0.5,0],"labelExpr":"datum.value % 1 == 0 ? '' + datum.value : ''","tickSize":4,"domainWidth":1,"tickWidth":1,"labelFontSize":15,"labelPadding":3,"titleFontSize":15,"titlePadding":8}},"y2":{"datum":0.5}}},
{"data":{"name":"inset"},"mark":{"type":"line","color":"#999999","strokeWidth":0.8},
 "encoding":{"x":{"field":"x","type":"quantitative","scale":{"domain":[-0.5,6],"range":[329,582],"nice":false,"zero":false}},"y":{"field":"y","type":"quantitative","scale":{"domain":[-2.5,0.5],"range":[460,210],"nice":false,"zero":false}}}},
{"data":{"name":"inset"},"mark":{"type":"point","shape":"square","filled":false,"size":16,"stroke":"#888888","strokeWidth":0.9,"opacity":1},
 "encoding":{"x":{"field":"x","type":"quantitative","scale":{"domain":[-0.5,6],"range":[329,582],"nice":false,"zero":false}},"y":{"field":"y","type":"quantitative","scale":{"domain":[-2.5,0.5],"range":[460,210],"nice":false,"zero":false}}}},
{"data":{"values":[{}]},"mark":{"type":"rect","fill":"#111111","xOffset":4,"x2Offset":4,"yOffset":4,"y2Offset":4},
 "encoding":{"x":{"datum":-0.346,"type":"quantitative","scale":{"domain":[-0.5,6],"range":[329,582],"nice":false,"zero":false}},"x2":{"datum":1.222},"y":{"datum":-1.048,"type":"quantitative","scale":{"domain":[-2.5,0.5],"range":[460,210],"nice":false,"zero":false}},"y2":{"datum":-1.566}}},
{"data":{"values":[{}]},"mark":{"type":"rect","fill":"white","stroke":"#777777","strokeWidth":1},
 "encoding":{"x":{"datum":-0.346,"type":"quantitative","scale":{"domain":[-0.5,6],"range":[329,582],"nice":false,"zero":false}},"x2":{"datum":1.222},"y":{"datum":-1.048,"type":"quantitative","scale":{"domain":[-2.5,0.5],"range":[460,210],"nice":false,"zero":false}},"y2":{"datum":-1.566}}},
{"data":{"values":[{}]},"mark":{"type":"text","text":"GdAl","align":"left","baseline":"alphabetic","fontSize":16,"color":"#111111"},"encoding":{"x":{"datum":-0.217,"type":"quantitative","scale":{"domain":[-0.5,6],"range":[329,582],"nice":false,"zero":false}},"y":{"datum":-1.446,"type":"quantitative","scale":{"domain":[-2.5,0.5],"range":[460,210],"nice":false,"zero":false}}}},
{"data":{"values":[{}]},"mark":{"type":"text","text":"2","align":"left","baseline":"alphabetic","fontSize":11,"color":"#111111","dx":36,"dy":4},"encoding":{"x":{"datum":-0.217,"type":"quantitative","scale":{"domain":[-0.5,6],"range":[329,582],"nice":false,"zero":false}},"y":{"datum":-1.446,"type":"quantitative","scale":{"domain":[-2.5,0.5],"range":[460,210],"nice":false,"zero":false}}}},
{"data":{"values":[{}]},"mark":{"type":"rect","fill":"white","stroke":"#777777","strokeWidth":1},
 "encoding":{"x":{"datum":3.176,"type":"quantitative","scale":{"domain":[-0.5,6],"range":[329,582],"nice":false,"zero":false}},"x2":{"datum":5.593},"y":{"datum":-1.229,"type":"quantitative","scale":{"domain":[-2.5,0.5],"range":[460,210],"nice":false,"zero":false}},"y2":{"datum":-1.627}}},
{"data":{"values":[{}]},"mark":{"type":"text","text":"Gd L","align":"left","baseline":"alphabetic","fontSize":15,"color":"#111111"},"encoding":{"x":{"datum":3.279,"type":"quantitative","scale":{"domain":[-0.5,6],"range":[329,582],"nice":false,"zero":false}},"y":{"datum":-1.47,"type":"quantitative","scale":{"domain":[-2.5,0.5],"range":[460,210],"nice":false,"zero":false}}}},
{"data":{"values":[{}]},"mark":{"type":"text","text":"III","align":"left","baseline":"alphabetic","fontSize":13,"fontWeight":"bold","color":"#111111","dx":33,"dy":4},"encoding":{"x":{"datum":3.279,"type":"quantitative","scale":{"domain":[-0.5,6],"range":[329,582],"nice":false,"zero":false}},"y":{"datum":-1.47,"type":"quantitative","scale":{"domain":[-2.5,0.5],"range":[460,210],"nice":false,"zero":false}}}},
{"data":{"values":[{}]},"mark":{"type":"text","text":"edge","align":"left","baseline":"alphabetic","fontSize":15,"color":"#111111","dx":47},"encoding":{"x":{"datum":3.279,"type":"quantitative","scale":{"domain":[-0.5,6],"range":[329,582],"nice":false,"zero":false}},"y":{"datum":-1.47,"type":"quantitative","scale":{"domain":[-2.5,0.5],"range":[460,210],"nice":false,"zero":false}}}},
{"data":{"values":[{}]},"mark":{"type":"text","text":"50 K","align":"center","baseline":"alphabetic","fontSize":16,"color":"#111111"},"encoding":{"x":{"datum":4.18,"type":"quantitative","scale":{"domain":[-0.5,6],"range":[329,582],"nice":false,"zero":false}},"y":{"datum":-2.108,"type":"quantitative","scale":{"domain":[-2.5,0.5],"range":[460,210],"nice":false,"zero":false}}}}
]}
],
"resolve":{"scale":{"x":"independent","y":"independent","color":"independent","shape":"independent"}}
}
